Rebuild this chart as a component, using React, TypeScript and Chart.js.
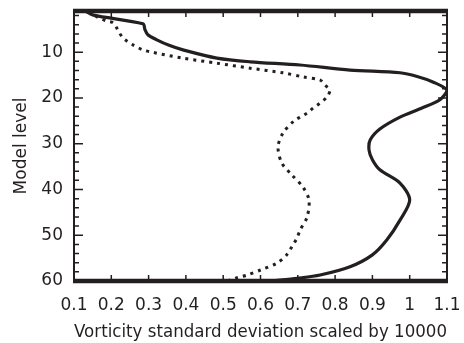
import React, { useEffect, useRef } from 'react';
import { Chart, registerables } from 'chart.js';

Chart.register(...registerables);

// Solid curve: model level -> vorticity std (x 10000)
const solidLevels = [1, 1.9, 3.8, 5.0, 6.2, 7.3, 8.5, 9.5, 11.3, 12.1, 12.8, 13.9, 14.5, 15.3, 16.5, 18.3, 20.4, 22.3, 24.2, 26.8, 29.2, 31.4, 33.5, 35.7, 38.6, 42.3, 46.7, 51, 54.3, 56.9, 58.7, 59.4, 60];
const solidValues = [0.13, 0.152, 0.285, 0.29, 0.298, 0.322, 0.355, 0.392, 0.483, 0.572, 0.706, 0.84, 0.974, 1.02, 1.062, 1.1, 1.081, 1.03, 0.974, 0.92, 0.894, 0.891, 0.9, 0.92, 0.974, 1.0, 0.974, 0.939, 0.9, 0.84, 0.76, 0.7, 0.63];

// Dotted curve
const dottedLevels = [1, 2.3, 3.2, 3.6, 5.2, 6.7, 7.3, 8.4, 9.5, 10, 11.3, 12.4, 13.5, 14.5, 15.4, 16.1, 17.2, 18.3, 19.8, 21.1, 22.2, 23.3, 24.2, 25, 27.7, 30.7, 34.2, 36.8, 39.5, 42.3, 46, 48.9, 50.6, 52.1, 54.3, 56.1, 57.6, 58.7, 59.3, 60];
const dottedValues = [0.14, 0.162, 0.188, 0.205, 0.218, 0.229, 0.237, 0.258, 0.285, 0.309, 0.392, 0.483, 0.572, 0.66, 0.714, 0.76, 0.773, 0.786, 0.778, 0.76, 0.741, 0.725, 0.706, 0.69, 0.66, 0.647, 0.657, 0.684, 0.714, 0.73, 0.725, 0.706, 0.698, 0.687, 0.67, 0.644, 0.6, 0.564, 0.537, 0.51];

const xTickValues = [0.1, 0.2, 0.3, 0.4, 0.5, 0.6, 0.7, 0.8, 0.9, 1.0, 1.1];
const xTickLabels = ['0.1', '0.2', '0.3', '0.4', '0.5', '0.6', '0.7', '0.8', '0.9', '1', '1.1'];
const yTickValues = [10, 20, 30, 40, 50, 60];
const yMinorTickValues = [2, 4, 6, 8, 12, 14, 16, 18, 22, 24, 26, 28, 32, 34, 36, 38, 42, 44, 46, 48, 52, 54, 56, 58];

const INK = '#231f20';
const FONT = { family: '"DejaVu Sans", sans-serif', size: 17 };

const framePlugin = {
  id: 'frame',
  afterDraw(chart: any) {
    const { ctx, chartArea, scales } = chart;
    const { left, right, top, bottom } = chartArea;
    const x = scales.x;
    const y = scales.y;
    ctx.save();
    ctx.strokeStyle = INK;
    ctx.lineCap = 'butt';
    ctx.lineWidth = 1.5;
    ctx.beginPath();
    xTickValues.forEach((v) => {
      const px = x.getPixelForValue(v);
      ctx.moveTo(px, bottom);
      ctx.lineTo(px, bottom - 6);
      ctx.moveTo(px, top);
      ctx.lineTo(px, top + 6);
    });
    yTickValues.forEach((v) => {
      const py = y.getPixelForValue(v);
      ctx.moveTo(left, py);
      ctx.lineTo(left + 9, py);
      ctx.moveTo(right, py);
      ctx.lineTo(right - 9, py);
    });
    yMinorTickValues.forEach((v) => {
      const py = y.getPixelForValue(v);
      ctx.moveTo(left, py);
      ctx.lineTo(left + 5, py);
      ctx.moveTo(right, py);
      ctx.lineTo(right - 5, py);
    });
    ctx.stroke();
    ctx.lineWidth = 2;
    ctx.beginPath();
    ctx.moveTo(left, top);
    ctx.lineTo(left, bottom);
    ctx.moveTo(right, top);
    ctx.lineTo(right, bottom);
    ctx.stroke();
    ctx.lineWidth = 4.5;
    ctx.beginPath();
    ctx.moveTo(left - 1, top);
    ctx.lineTo(right + 1, top);
    ctx.moveTo(left - 1, bottom);
    ctx.lineTo(right + 1, bottom);
    ctx.stroke();
    ctx.restore();
  },
};

export default function App() {
  const canvasRef = useRef<HTMLCanvasElement | null>(null);

  useEffect(() => {
    document.body.style.margin = '0';
    const canvas = canvasRef.current;
    if (!canvas) return;
    const chart = new Chart(canvas, {
      type: 'scatter',
      data: {
        datasets: [
          {
            label: 'solid',
            data: solidLevels.map((lv, i) => ({ x: solidValues[i], y: lv })),
            showLine: true,
            borderColor: INK,
            borderWidth: 3.2,
            pointRadius: 0,
            tension: 0.3,
            fill: false,
          },
          {
            label: 'dotted',
            data: dottedLevels.map((lv, i) => ({ x: dottedValues[i], y: lv })),
            showLine: true,
            borderColor: INK,
            borderWidth: 3,
            borderDash: [3, 5],
            borderCapStyle: 'butt',
            pointRadius: 0,
            tension: 0.3,
            fill: false,
          },
        ],
      },
      options: {
        responsive: false,
        animation: false,
        events: [],
        layout: { padding: { top: 11, right: 17, left: 0, bottom: 0 } },
        plugins: {
          legend: { display: false },
          tooltip: { enabled: false },
        },
        scales: {
          x: {
            type: 'linear',
            min: 0.1,
            max: 1.1,
            grid: { display: false, drawTicks: false },
            border: { display: false },
            afterBuildTicks: (scale: any) => {
              scale.ticks = xTickValues.map((v) => ({ value: v }));
            },
            afterFit: (scale: any) => {
              scale.height = 62;
              scale.paddingLeft = 0;
              scale.paddingRight = 0;
            },
            ticks: {
              color: INK,
              font: FONT,
              padding: 14,
              maxRotation: 0,
              autoSkip: false,
              callback: (_v: any, i: number) => xTickLabels[i],
            },
            title: {
              display: true,
              text: 'Vorticity standard deviation scaled by 10000',
              color: INK,
              font: FONT,
              padding: { top: 5, bottom: 0 },
            },
          },
          y: {
            type: 'linear',
            reverse: true,
            min: 1,
            max: 60,
            grid: { display: false, drawTicks: false },
            border: { display: false },
            afterBuildTicks: (scale: any) => {
              scale.ticks = yTickValues.map((v) => ({ value: v }));
            },
            afterFit: (scale: any) => {
              scale.width = 74;
              scale.paddingTop = 0;
              scale.paddingBottom = 0;
            },
            ticks: {
              color: INK,
              font: FONT,
              padding: 11,
              autoSkip: false,
              callback: (v: any) => String(v),
            },
            title: {
              display: true,
              text: 'Model level',
              color: INK,
              font: FONT,
              padding: { top: 11, bottom: 0 },
            },
          },
        },
      },
      plugins: [framePlugin],
    });
    return () => chart.destroy();
  }, []);

  return (
    <div style={{ width: 464, height: 343 }}>
      <canvas ref={canvasRef} width={464} height={343} style={{ display: 'block' }} />
    </div>
  );
}
